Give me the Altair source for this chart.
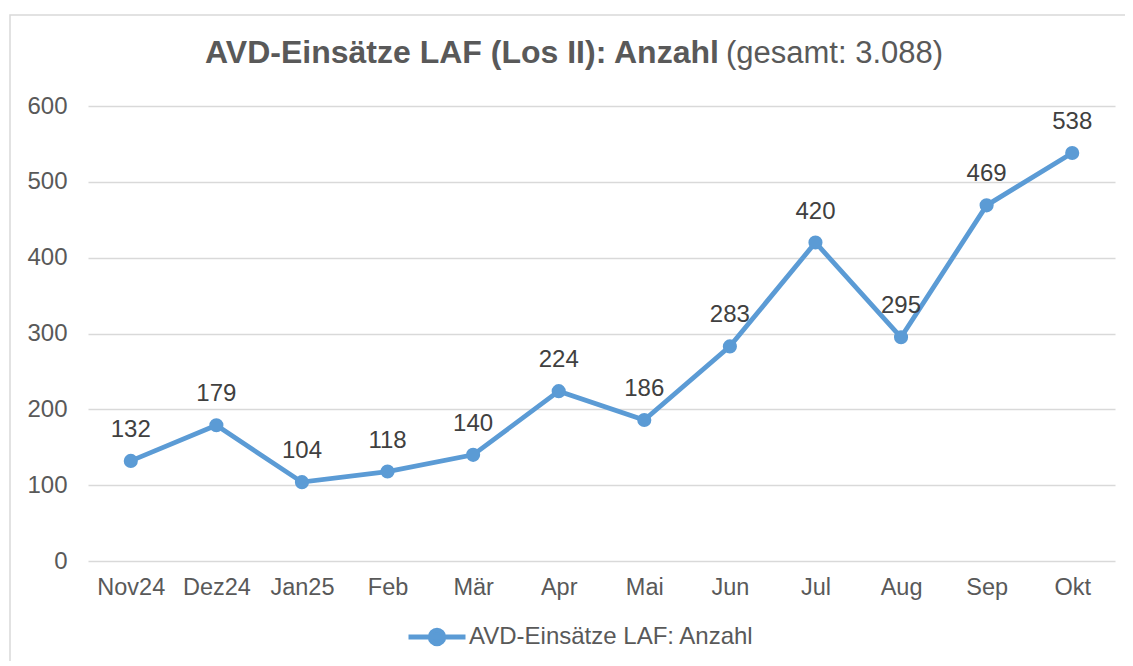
import altair as alt
import pandas as pd

months = ["Nov24", "Dez24", "Jan25", "Feb", "Mär", "Apr", "Mai", "Jun", "Jul", "Aug", "Sep", "Okt"]
counts = [132, 179, 104, 118, 140, 224, 186, 283, 420, 295, 469, 538]
series_name = "AVD-Einsätze LAF: Anzahl"
title_bold = "AVD-Einsätze LAF (Los II): Anzahl"
title_regular = "(gesamt: 3.088)"

df = pd.DataFrame({"Monat": months, "Anzahl": counts, "Serie": [series_name] * len(months)})

BLUE = "#5B9BD5"
GREY = "#595959"
FONT = "Liberation Sans"
W, H = 1027, 455

x = alt.X("Monat:N", sort=months, title=None,
          axis=alt.Axis(labelAngle=0, ticks=False, domain=False, grid=False, labelPadding=14,
                        labelFontSize=23.5, labelColor=GREY, labelFont=FONT))
y = alt.Y("Anzahl:Q", title=None, scale=alt.Scale(domain=[0, 600], nice=False),
          axis=alt.Axis(values=[0, 100, 200, 300, 400, 500, 600], ticks=False, domain=False,
                        labelPadding=21, labelFontSize=24, labelColor=GREY, labelFont=FONT,
                        gridColor="#D9D9D9", gridWidth=1.3))

circle_path = "M-1,0L1,0M0.24,0A0.24,0.24,0,1,1,-0.24,0A0.24,0.24,0,1,1,0.24,0Z"

base = alt.Chart(df)

frame = alt.Chart(pd.DataFrame({"a": [0]})).mark_rect(
    fill="transparent", stroke="#D9D9D9", strokeWidth=1.5
).encode(x=alt.value(-78), x2=alt.value(1060), y=alt.value(-91), y2=alt.value(600))

line = base.mark_line(strokeWidth=4.8).encode(
    x=x, y=y,
    color=alt.Color("Serie:N", scale=alt.Scale(range=[BLUE]), title=None,
                    legend=alt.Legend(orient="none", legendX=318, legendY=500,
                                      symbolType=circle_path, symbolSize=3249,
                                      symbolStrokeWidth=4.8, symbolFillColor=BLUE,
                                      symbolStrokeColor=BLUE, labelLimit=0,
                                      labelFontSize=24, labelColor=GREY, labelFont=FONT,
                                      labelOffset=1)))
points = base.mark_point(filled=True, size=200, opacity=1, color=BLUE).encode(x=x, y=y)
labels = base.mark_text(fontSize=24, color="#404040", font=FONT, dy=-31, baseline="middle").encode(
    x=x, y=y, text="Anzahl:Q")

t1 = alt.Chart(pd.DataFrame({"t": [title_bold]})).mark_text(
    font=FONT, fontSize=32, fontWeight="bold", color=GREY, align="center", baseline="alphabetic"
).encode(x=alt.value(374), y=alt.value(-43), text="t:N")
t2 = alt.Chart(pd.DataFrame({"t": [title_regular]})).mark_text(
    font=FONT, fontSize=31, color=GREY, align="center", baseline="alphabetic"
).encode(x=alt.value(746.5), y=alt.value(-43), text="t:N")

chart = alt.layer(frame, line, points, labels, t1, t2).properties(
    width=W, height=H,
    background="white",
    autosize=alt.AutoSizeParams(type="none"),
    padding={"left": 80, "top": 98, "right": 10, "bottom": 100},
).configure_view(strokeWidth=0, stroke="transparent")

chart.save("out.html", embed_options={"renderer": "svg", "actions": False})
